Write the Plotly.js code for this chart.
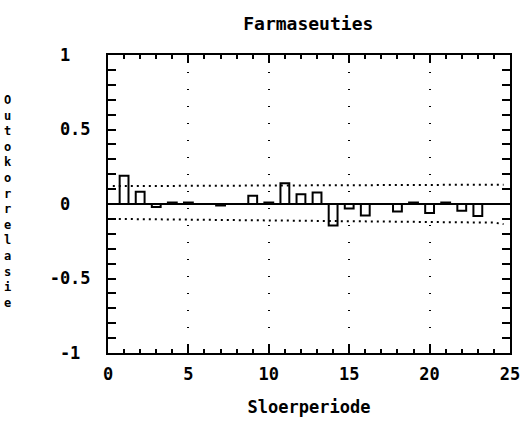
<!DOCTYPE html>
<html>
<head>
<meta charset="utf-8">
<script src="https://cdn.plot.ly/plotly-3.0.1.min.js"></script>
<style>
  html, body { margin: 0; padding: 0; background: #fff; }
  #chart { width: 527px; height: 422px; }
</style>
</head>
<body>
<div id="chart"></div>
<script>
// Autocorrelation by lag
const lags = [1, 2, 3, 4, 5, 6, 7, 8, 9, 10, 11, 12, 13, 14, 15, 16, 17, 18, 19, 20, 21, 22, 23];
const acf = [0.19, 0.083, -0.02, 0.01, 0.01, 0.0, -0.01, 0.0, 0.055, 0.01, 0.14, 0.065, 0.078,
             -0.145, -0.03, -0.078, 0.0, -0.05, 0.01, -0.06, 0.01, -0.045, -0.08];

// Confidence bounds
const boundLags = [0.3, 5, 10, 15, 20, 24, 24.6];
const upperBound = [0.12, 0.122, 0.124, 0.126, 0.128, 0.13, 0.13];
const lowerBound = [-0.10, -0.105, -0.11, -0.115, -0.12, -0.125, -0.135];

// Axis labels
const yTickVals = [1, 0.5, 0, -0.5, -1];
const yTickText = ['1\u00A0\u00A0', '0.5', '0\u00A0\u00A0', '-0.5', '-1\u00A0'];
const xTickVals = [0, 5, 10, 15, 20, 25];
const xTickText = ['0', '5', '10', '15', '20', '25'];
const titleText = 'Farmaseuties';
const xTitle = 'Sloerperiode';
const yTitle = 'Outokorrelasie';

const FONT = '"DejaVu Sans Mono", monospace';

const traces = [
  {
    type: 'bar', x: lags, y: acf, width: 0.55,
    marker: { color: 'white', line: { color: 'black', width: 2 } },
    hoverinfo: 'skip'
  },
  {
    type: 'scatter', mode: 'lines', x: boundLags, y: upperBound,
    line: { color: 'black', width: 2, dash: '2px,4px' }, hoverinfo: 'skip'
  },
  {
    type: 'scatter', mode: 'lines', x: boundLags, y: lowerBound,
    line: { color: 'black', width: 2, dash: '2px,4px' }, hoverinfo: 'skip'
  },
  // empty trace so the unit-tick axis gets drawn
  { type: 'scatter', mode: 'lines', x: [], y: [], xaxis: 'x2', yaxis: 'y', hoverinfo: 'skip' }
];

const layout = {
  width: 527, height: 422,
  margin: { l: 108, r: 17, t: 55, b: 69 },
  paper_bgcolor: 'white', plot_bgcolor: 'white',
  showlegend: false,
  font: { family: FONT, color: 'black', size: 17, weight: 'bold' },
  title: {
    text: titleText, x: 0.585, xanchor: 'center', y: 0.945, yanchor: 'middle',
    font: { family: FONT, size: 18, weight: 'bold', color: 'black' }
  },
  xaxis: {
    range: [0, 25], tickmode: 'array', tickvals: xTickVals, ticktext: xTickText,
    ticks: 'inside', ticklen: 8, tickwidth: 2, tickcolor: '#000000',
    showline: true, linewidth: 2, linecolor: 'black', mirror: 'ticks',
    showgrid: true, gridcolor: 'black', gridwidth: 2, griddash: '1px,16px',
    zeroline: false, ticklabelstandoff: 5,
    tickfont: { family: FONT, size: 17, weight: 'bold' },
    title: { text: xTitle, standoff: 18, font: { family: FONT, size: 17, weight: 'bold' } }
  },
  // unit ticks along the bottom and top edges
  xaxis2: {
    overlaying: 'x', anchor: 'y', side: 'bottom', matches: 'x', range: [0, 25],
    tickmode: 'linear', tick0: 0, dtick: 1,
    ticks: 'inside', ticklen: 4, tickwidth: 2, tickcolor: '#000000',
    showticklabels: false, showline: false, mirror: 'allticks',
    showgrid: false, zeroline: false
  },
  yaxis: {
    range: [-1, 1], tickmode: 'array', tickvals: yTickVals, ticktext: yTickText,
    ticks: 'inside', ticklen: 8, tickwidth: 2, tickcolor: '#000000',
    minor: { dtick: 0.1, ticks: 'inside', ticklen: 4, tickwidth: 2, tickcolor: '#000000' },
    showline: true, linewidth: 2, linecolor: 'black', mirror: 'allticks',
    showgrid: false, zeroline: true, zerolinecolor: 'black', zerolinewidth: 2.5,
    ticklabelstandoff: 12,
    tickfont: { family: FONT, size: 17, weight: 'bold' }
  },
  annotations: [{
    // vertical, letter-by-letter axis caption
    text: yTitle.split('').join('<br>'), xref: 'paper', yref: 'paper',
    x: -0.25, y: 0.51, xanchor: 'center', yanchor: 'middle', showarrow: false,
    textangle: 0, font: { family: FONT, size: 12, weight: 'bold', color: 'black' }
  }]
};

Plotly.newPlot('chart', traces, layout, { staticPlot: true, displayModeBar: false });
</script>
</body>
</html>
